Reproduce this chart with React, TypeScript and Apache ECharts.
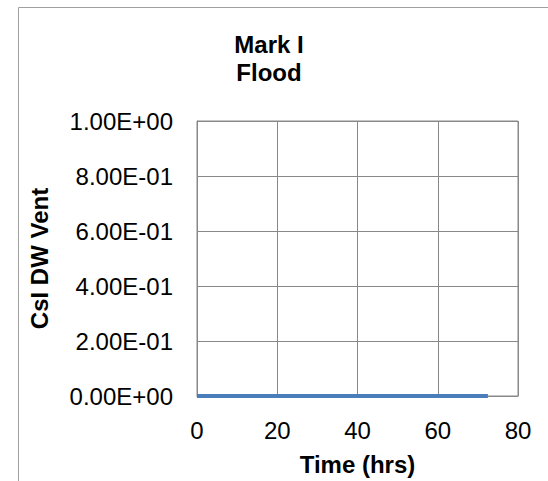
import React, { useEffect, useRef } from "react";
import * as echarts from "echarts";

const timeHrs: number[] = [0, 12, 24, 36, 48, 60, 72.5];
const csiDwVent: number[] = [0, 0, 0, 0, 0, 0, 0];
const titleLines: string[] = ["Mark I", "Flood"];
const yAxisName = "CsI DW Vent";
const xAxisName = "Time (hrs)";

function sci(v: number): string {
  const [m, e] = v.toExponential(2).split("e");
  const sign = e[0] === "-" ? "-" : "+";
  const digits = e.replace(/^[+-]/, "").padStart(2, "0");
  return `${m}E${sign}${digits}`;
}

export default function App() {
  const ref = useRef<HTMLDivElement>(null);
  useEffect(() => {
    if (!ref.current) return;
    const chart = echarts.init(ref.current, undefined, { renderer: "svg" });
    const font = "'Liberation Sans', Arial, sans-serif";
    chart.setOption({
      animation: false,
      backgroundColor: "#ffffff",
      graphic: [
        {
          type: "rect",
          shape: { x: 18.5, y: 7.5, width: 600, height: 600 },
          style: { fill: "none", stroke: "#a0a0a0", lineWidth: 1 },
          silent: true,
        },
        {
          type: "text",
          x: 269,
          y: 44,
          style: {
            text: titleLines[0],
            font: `bold 24px ${font}`,
            fill: "#000",
            align: "center",
            verticalAlign: "middle",
          },
        },
        {
          type: "text",
          x: 269,
          y: 72,
          style: {
            text: titleLines[1],
            font: `bold 24px ${font}`,
            fill: "#000",
            align: "center",
            verticalAlign: "middle",
          },
        },
      ],
      grid: {
        left: 197,
        right: 30,
        top: 121,
        bottom: 82,
        show: true,
        borderColor: "#888888",
        borderWidth: 1,
        backgroundColor: "transparent",
      },
      xAxis: {
        type: "value",
        min: 0,
        max: 80,
        interval: 20,
        name: xAxisName,
        nameLocation: "middle",
        nameGap: 56,
        nameTextStyle: { fontFamily: font, fontSize: 24, fontWeight: "bold", color: "#000" },
        axisLine: { show: true, lineStyle: { color: "#888888", width: 1 } },
        axisTick: { show: false },
        axisLabel: { fontFamily: font, fontSize: 24, color: "#000", margin: 22 },
        splitLine: { show: true, lineStyle: { color: "#888888", width: 1 } },
      },
      yAxis: {
        type: "value",
        min: 0,
        max: 1,
        interval: 0.2,
        name: yAxisName,
        nameLocation: "middle",
        nameGap: 146,
        nameRotate: 90,
        nameTextStyle: { fontFamily: font, fontSize: 24, fontWeight: "bold", color: "#000" },
        axisLine: { show: true, lineStyle: { color: "#888888", width: 1 } },
        axisTick: { show: false },
        axisLabel: { fontFamily: font, fontSize: 24, color: "#000", margin: 24, formatter: (v: number) => sci(v) },
        splitLine: { show: true, lineStyle: { color: "#888888", width: 1 } },
      },
      series: [
        {
          type: "line",
          data: timeHrs.map((t, i) => [t, csiDwVent[i]]),
          showSymbol: false,
          lineStyle: { color: "#4a7ebb", width: 4 },
          itemStyle: { color: "#4a7ebb" },
        },
      ],
    });
    return () => chart.dispose();
  }, []);
  return <div ref={ref} style={{ position: "absolute", left: 0, top: 0, width: 548, height: 481 }} />;
}
